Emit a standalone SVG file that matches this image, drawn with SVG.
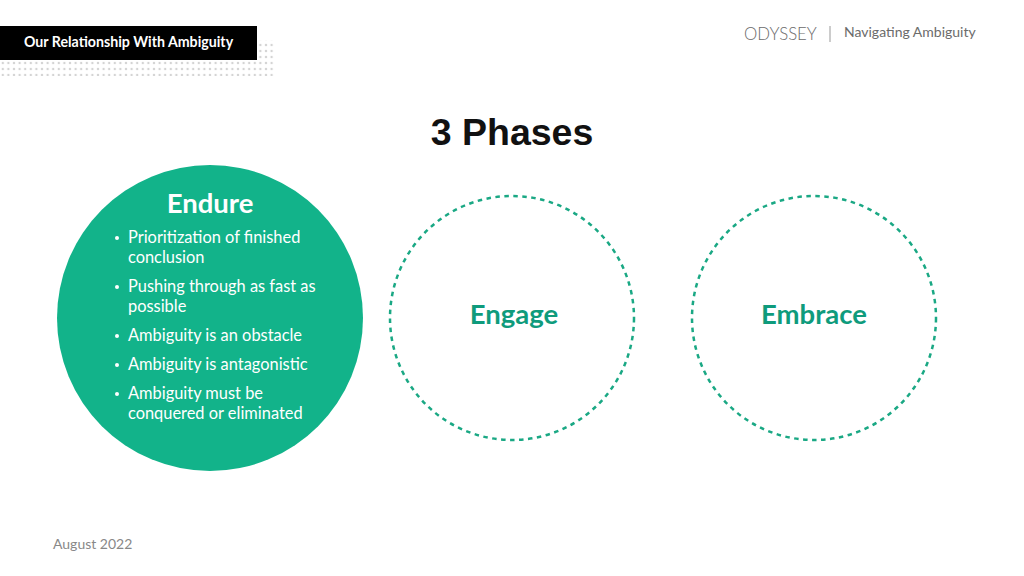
<svg xmlns="http://www.w3.org/2000/svg" width="1024" height="576" viewBox="0 0 1024 576">
<style>
.sans{font-family:Lato,"Open Sans","Liberation Sans",sans-serif}
.bul{font-size:16.4px;fill:#ffffff}
.phase{font-size:27.5px;font-weight:700;fill:#0f9b7c;text-anchor:middle}
.dash{fill:none;stroke:#1aa884;stroke-width:2.5;stroke-dasharray:4.5 4.5}
</style>
<defs>
<pattern id="dots" x="0" y="0" width="5.6" height="6" patternUnits="userSpaceOnUse">
<circle cx="2.8" cy="3" r="1.2" fill="#d4d4d4"/>
</pattern>
</defs>
<rect width="1024" height="576" fill="#ffffff"/>
<rect x="0" y="40" width="275" height="36" fill="url(#dots)"/>
<g id="header">
<rect x="0" y="26" width="257" height="34" fill="#000000"/>
<text x="24" y="47" class="sans" font-size="14.2" font-weight="700" fill="#ffffff">Our Relationship With Ambiguity</text>
</g>
<g id="brand">
<text x="744" y="40" class="sans" font-size="16.8" font-weight="300" fill="#6b6b6b">ODYSSEY</text>
<line x1="830" y1="26" x2="830" y2="42" stroke="#999" stroke-width="1"/>
<text x="844" y="37" class="sans" font-size="14" fill="#6b6b6b">Navigating Ambiguity</text>
</g>
<text id="title" x="512" y="145" text-anchor="middle" font-family="'Liberation Sans',Arial,sans-serif" font-size="37.5" font-weight="700" fill="#111111">3 Phases</text>
<g id="endure">
<circle cx="210" cy="318" r="153" fill="#12b38a"/>
<text x="210" y="213" class="sans" text-anchor="middle" font-size="27.5" font-weight="700" fill="#ffffff">Endure</text>
<g class="sans bul">
<circle cx="117" cy="238" r="2" fill="#fff"/>
<text x="128" y="243">Prioritization of finished</text>
<text x="128" y="263">conclusion</text>
<circle cx="117" cy="287" r="2" fill="#fff"/>
<text x="128" y="292">Pushing through as fast as</text>
<text x="128" y="312">possible</text>
<circle cx="117" cy="336" r="2" fill="#fff"/>
<text x="128" y="341">Ambiguity is an obstacle</text>
<circle cx="117" cy="365" r="2" fill="#fff"/>
<text x="128" y="370">Ambiguity is antagonistic</text>
<circle cx="117" cy="394" r="2" fill="#fff"/>
<text x="128" y="399">Ambiguity must be</text>
<text x="128" y="419">conquered or eliminated</text>
</g>
</g>
<g id="engage">
<circle class="dash" cx="512" cy="318" r="122"/>
<text x="514" y="324" class="sans phase">Engage</text>
</g>
<g id="embrace">
<circle class="dash" cx="814" cy="318" r="122"/>
<text x="814" y="324" class="sans phase">Embrace</text>
</g>
<text id="date" x="53" y="549" class="sans" font-size="14" fill="#888888">August 2022</text>
</svg>
